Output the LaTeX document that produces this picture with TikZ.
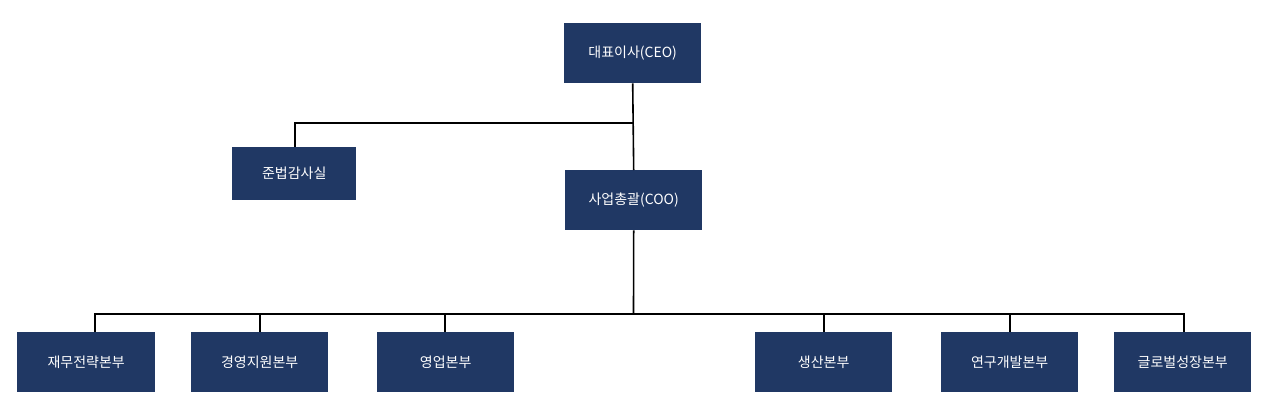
\documentclass[tikz,border=0pt]{standalone}
\usepackage{fontspec}
\newfontfamily\kr{Noto Sans CJK KR}
\definecolor{boxc}{HTML}{203864}
\begin{document}
\begin{tikzpicture}[x=1pt,y=-1pt,
 box/.style={fill=boxc,text=white,font=\kr\fontsize{14}{16}\selectfont,minimum width=137pt,minimum height=60pt,inner sep=0pt,anchor=north west},
 ln/.style={line width=1.6pt,black}]
\useasboundingbox (0,0) rectangle (1267,413);
\node[box] (ceo) at (564,23) {대표이사(CEO)};
\node[box,minimum width=124pt,minimum height=53pt] (aud) at (232,147) {준법감사실};
\node[box] (coo) at (565,170) {사업총괄(COO)};
\node[box,minimum width=138pt] (b1) at (17,332) {재무전략본부};
\node[box] (b2) at (191,332) {경영지원본부};
\node[box] (b3) at (377,332) {영업본부};
\node[box] (b4) at (755,332) {생산본부};
\node[box] (b5) at (941,332) {연구개발본부};
\node[box] (b6) at (1114,332) {글로벌성장본부};
\coordinate (j1) at (633.5,123);
\coordinate (j2) at (633.5,314);
\draw[ln] (ceo.south) -- (coo.north);
\draw[ln] (j1) -- (295,123) -- (aud.north -| 295,0);
\draw[ln] (coo.south) -- (j2);
\draw[ln] (95,314) -- (1184,314);
\foreach \x/\n in {95/b1,260/b2,445/b3,824/b4,1010/b5,1184/b6}
  \draw[ln] (\x,313.2) -- (\n.north -| \x,0);
\end{tikzpicture}
\end{document}
